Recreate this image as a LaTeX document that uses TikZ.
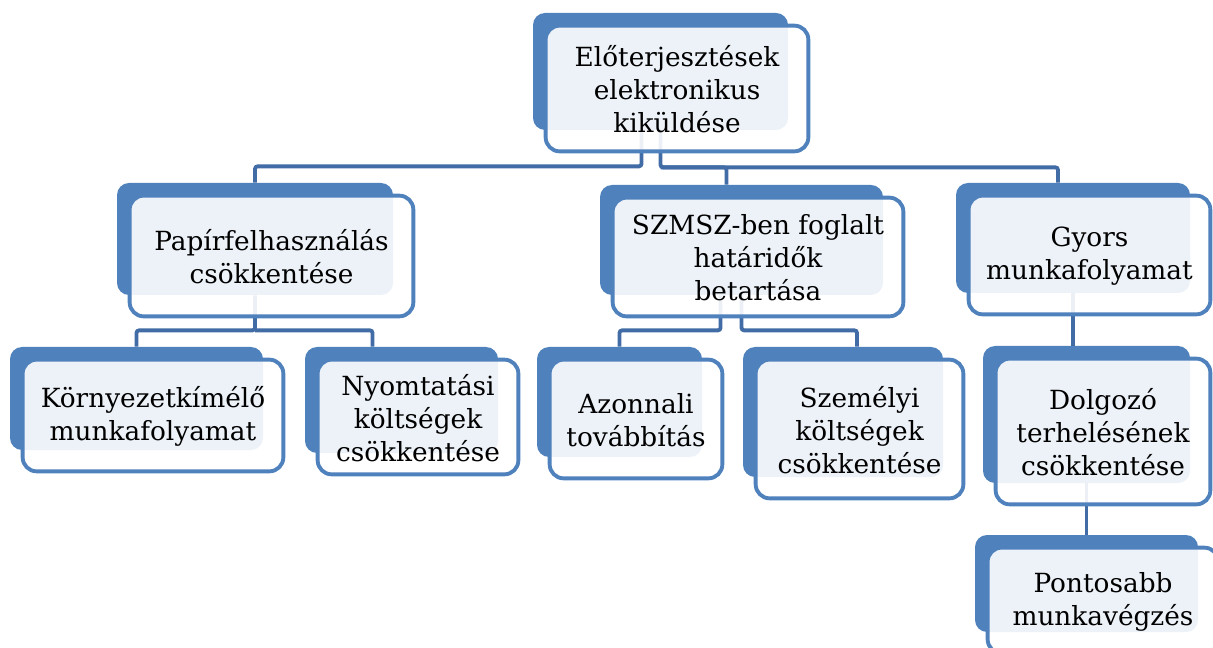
\documentclass[tikz,border=0pt]{standalone}
\usepackage{fontspec}
\setmainfont{DejaVu Serif}
\usepackage{tikz}
\usetikzlibrary{calc,fit}
\definecolor{boxblue}{RGB}{79,129,189}
\definecolor{lineblue}{RGB}{66,108,165}
\tikzset{
	back/.style={fill=boxblue, rounded corners=0.24cm, inner sep=0pt},
	front/.style={draw=boxblue, line width=2.2pt, fill=white, fill opacity=0.9,
		rounded corners=0.28cm, inner sep=0pt},
	txt/.style={inner sep=0pt, align=center, font=\fontsize{15}{18.8}\selectfont},
	conn/.style={draw=lineblue, line width=2.2pt, rounded corners=1.5pt}
}
\def\backbox(#1)(#2)(#3){\node[back, fit={(#2) (#3)}] (#1b) {};}
\def\frontbox(#1)#2{\node[front, fit={([shift={(13,13)}]#1b.north west) ([shift={(20,21)}]#1b.south east)}] (#1) {};
	\node[txt] (#1t) at ([shift={(0,1)}]#1.center) {#2};}

\begin{document}
\begin{tikzpicture}[x=0.02cm, y=-0.02cm]
			%%%%% START %%%%%
			\useasboundingbox (0,0) rectangle (1213,648);
			\clip (0,0) rectangle (1213,648);
			
			\backbox(top)(533,13)(788,130)
			\backbox(papir)(117,183)(393,295)
			\backbox(szmsz)(600,185)(883,295)
			\backbox(gyors)(956,183)(1190,293)
			\backbox(korny)(10,347)(263,450)
			\backbox(nyomt)(305,347)(498,453)
			\backbox(azonn)(537,347)(702,457)
			\backbox(szemely)(743,347)(943,477)
			\backbox(dolg)(983,346)(1190,483)
			\backbox(pont)(975,535)(1198,632)
			
			\draw[conn] ($(topb.south)+(-19,0)$) -- ++(0,36) -| (papirb.north);
			\draw[conn] (topb.south) -- ++(0,37) -| ($(gyorsb.north)+(-15,0)$);
			\draw[conn] (topb.south) ++(0,37) -| ($(szmszb.north)+(-15,0)$);
			\draw[conn] (papirb.south) -- ++(0,35) -| (kornyb.north);
			\draw[conn] (papirb.south) ++(0,35) -| ($(nyomtb.north)+(-29,0)$);
			\draw[conn] ($(szmszb.south)+(-21,0)$) -- ++(0,35) -| (azonnb.north);
			\draw[conn] (szmszb.south) -- ++(0,35) -| ($(szemelyb.north)+(14,0)$);
			\draw[conn] (gyorsb.south) -- (gyorsb.south |- dolgb.north);
			\draw[conn] (dolgb.south) -- (pontb.north);
			
			\frontbox(top){Előterjesztések\\elektronikus\\kiküldése}
			\frontbox(papir){Papírfelhasználás\\csökkentése}
			\frontbox(szmsz){SZMSZ-ben foglalt\\határidők\\betartása}
			\frontbox(gyors){Gyors\\munkafolyamat}
			\frontbox(korny){Környezetkímélő\\munkafolyamat}
			\frontbox(nyomt){Nyomtatási\\költségek\\csökkentése}
			\frontbox(azonn){Azonnali\\továbbítás}
			\frontbox(szemely){Személyi\\költségek\\csökkentése}
			\frontbox(dolg){Dolgozó\\terhelésének\\csökkentése}
			\frontbox(pont){Pontosabb\\munkavégzés}
			
			%%%%% END %%%%%
\end{tikzpicture}
\end{document}
